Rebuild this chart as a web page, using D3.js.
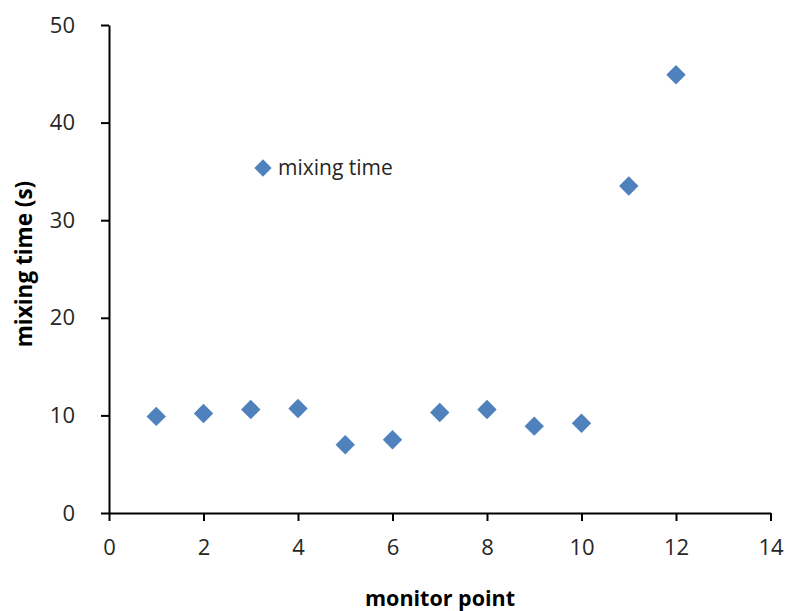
<!DOCTYPE html>
<html><head><meta charset="utf-8">
<script src="https://cdn.jsdelivr.net/npm/d3@7"></script>
<style>body{margin:0;background:#fff}</style>
</head><body>
<svg id="c" width="786" height="611"></svg>
<script>
const points = [1,2,3,4,5,6,7,8,9,10,11,12];
const mixingTime = [9.9,10.2,10.6,10.7,7.0,7.5,10.3,10.6,8.9,9.2,33.5,44.9];
const xTicks = [0,2,4,6,8,10,12,14];
const yTicks = [0,10,20,30,40,50];
const seriesName = "mixing time";

const svg = d3.select("#c");
const font = "'Open Sans', sans-serif";
const x = d3.scaleLinear().domain([0,14]).range([109,770.5]);
const y = d3.scaleLinear().domain([0,50]).range([513,25]);

const xa = svg.append("g").attr("transform","translate(0,513)")
  .call(d3.axisBottom(x).tickValues(xTicks).tickSize(8).tickPadding(18).tickSizeOuter(0));
const ya = svg.append("g").attr("transform","translate(109,0)")
  .call(d3.axisLeft(y).tickValues(yTicks).tickSize(8).tickPadding(26).tickSizeOuter(0));
[xa,ya].forEach(a=>{
  a.select(".domain").attr("stroke","#000").attr("stroke-width",2);
  a.selectAll(".tick line").attr("stroke","#000").attr("stroke-width",2);
  a.selectAll(".tick text").attr("font-family",font).attr("font-size",22).attr("fill","#262626");
});

const sym = d3.symbol().type(d3.symbolDiamond2).size(240);
svg.append("g").selectAll("path").data(points).join("path")
  .attr("d", sym)
  .attr("transform",(d,i)=>`translate(${x(d)},${y(mixingTime[i])})`)
  .attr("fill","#4F81BD");

// legend
svg.append("path").attr("d", d3.symbol().type(d3.symbolDiamond2).size(190))
  .attr("transform","translate(263,168)").attr("fill","#4F81BD");
svg.append("text").attr("x",278).attr("y",175).attr("font-family",font)
  .attr("font-size",21).attr("fill","#262626").text(seriesName);

svg.append("text").attr("x",440).attr("y",606).attr("text-anchor","middle")
  .attr("font-family",font).attr("font-weight","bold").attr("font-size",21.5).text("monitor point");
svg.append("text").attr("transform","translate(32,264) rotate(-90)").attr("text-anchor","middle")
  .attr("font-family",font).attr("font-weight","bold").attr("font-size",22.5).text("mixing time (s)");
</script>
</body></html>
